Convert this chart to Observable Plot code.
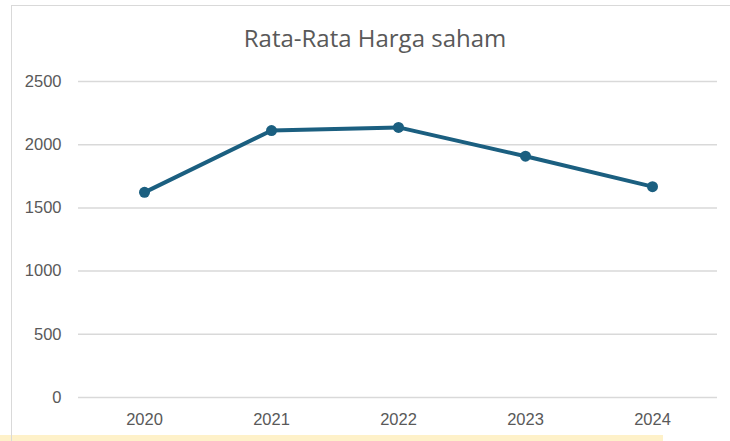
<!DOCTYPE html>
<html>
<head>
<meta charset="utf-8">
<script src="https://cdn.jsdelivr.net/npm/d3@7"></script>
<script src="https://cdn.jsdelivr.net/npm/@observablehq/plot@0.6"></script>
<style>
  html, body { margin: 0; padding: 0; background: #fff; }
  #wrap { position: relative; width: 730px; height: 441px; overflow: hidden; font-family: "Liberation Sans", Arial, sans-serif; }
  #border { position: absolute; left: 11px; top: 5px; width: 740px; height: 460px; border-left: 1.5px solid #d9d9d9; border-top: 1.5px solid #d9d9d9; box-sizing: border-box; }
  #strip { position: absolute; left: 0; top: 435px; width: 663px; height: 6px; background: #fef1c9; }
  #title { position: absolute; left: 0; width: 750px; top: 21px; text-align: center; font-family: "Open Sans", sans-serif; font-size: 24px; color: #595959; }
  #chart { position: absolute; left: 0; top: 0; }
</style>
</head>
<body>
<div id="wrap">
  <div id="strip"></div>
  <div id="border"></div>
  <div id="title">Rata-Rata Harga saham</div>
  <div id="chart"></div>
</div>
<script>
const years = ["2020", "2021", "2022", "2023", "2024"];
const values = [1623, 2112, 2137, 1909, 1668];
const yTicks = [0, 500, 1000, 1500, 2000, 2500];

const data = years.map((y, i) => ({year: y, value: values[i]}));
const lineColor = "#1b5f80";

const chart = Plot.plot({
  width: 730,
  height: 441,
  marginLeft: 78,
  marginRight: 13,
  marginTop: 81,
  marginBottom: 44,
  style: {background: "transparent", fontFamily: "'Liberation Sans', Arial, sans-serif", fontSize: "16.5px", color: "#595959"},
  x: {type: "point", domain: years, padding: 0.5, label: null},
  y: {domain: [0, 2500], label: null},
  marks: [
    Plot.gridY(yTicks, {stroke: "#d9d9d9", strokeOpacity: 1, strokeWidth: 1.5}),
    Plot.axisY(yTicks, {tickSize: 0, tickPadding: 17, fill: "#595959", fontSize: 16.5, label: null, tickFormat: d => String(d)}),
    Plot.axisX(years, {tickSize: 0, tickPadding: 16, fill: "#595959", fontSize: 16.5, label: null}),
    Plot.line(data, {x: "year", y: "value", stroke: lineColor, strokeWidth: 4, strokeLinejoin: "round"}),
    Plot.dot(data, {x: "year", y: "value", r: 5.5, fill: lineColor, stroke: "none"})
  ]
});
document.getElementById("chart").appendChild(chart);
</script>
</body>
</html>
